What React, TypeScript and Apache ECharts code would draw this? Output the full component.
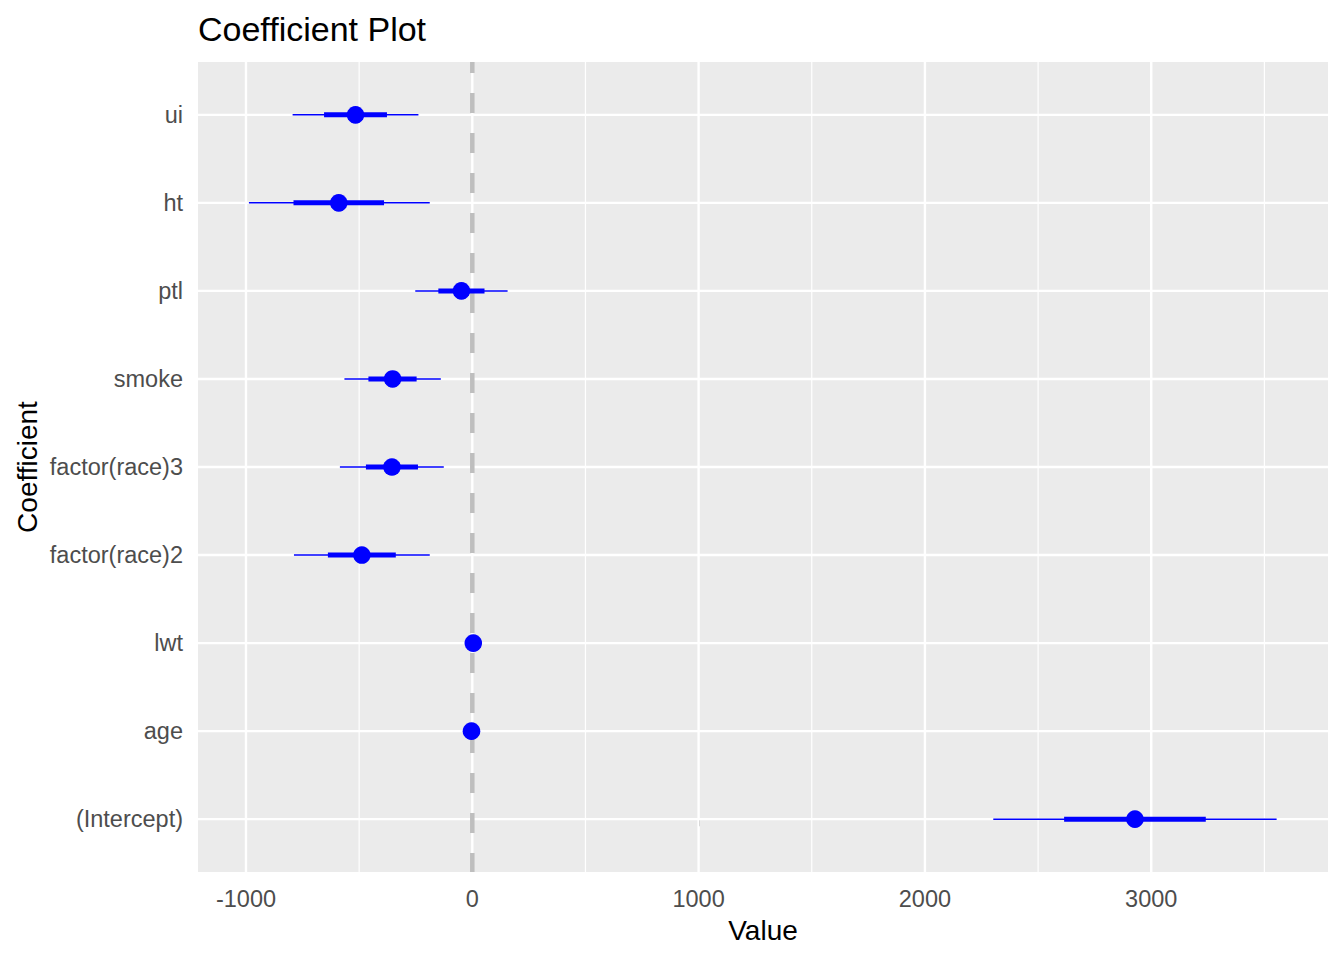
import React, { useEffect, useRef } from "react";
import * as echarts from "echarts";

// Coefficients, bottom to top
const categories = ["(Intercept)", "age", "lwt", "factor(race)2", "factor(race)3", "smoke", "ptl", "ht", "ui"];
const estimate = [2928, -3.6, 4.4, -488, -355, -352, -48, -590, -516];
const innerLow = [2615, -13, 2.6, -638, -470, -459, -150, -790, -655];
const innerHigh = [3241, 6, 6.1, -338, -240, -246, 54, -390, -377];
const outerLow = [2302, -23, 0.9, -788, -585, -565, -252, -987, -794];
const outerHigh = [3554, 16, 7.8, -188, -126, -139, 156, -188, -238];

const xTicks = [-1000, 0, 1000, 2000, 3000];
const xMinor = [-500, 500, 1500, 2500, 3500];
const xMin = -1212;
const xMax = 3781;

const FONT = "'Liberation Sans', Arial, sans-serif";
const BLUE = "#0000FF";

export default function App() {
  const ref = useRef<HTMLDivElement>(null);
  useEffect(() => {
    document.body.style.margin = "0";
    const chart = echarts.init(ref.current!, null, { renderer: "svg" });
    const yIdx = categories.map((_, i) => i);

    const vGrid = (values: number[], width: number, name: string) => ({
      type: "custom",
      name,
      silent: true,
      z: 1,
      clip: false,
      data: values.map((v) => [v]),
      encode: { x: 0 },
      renderItem: (params: any, api: any) => {
        const cs = params.coordSys;
        const x = api.coord([api.value(0), 0])[0];
        return {
          type: "line",
          shape: { x1: x, y1: cs.y, x2: x, y2: cs.y + cs.height },
          style: { stroke: "#FFFFFF", lineWidth: width },
        };
      },
    });

    const option: any = {
      animation: false,
      grid: {
        left: 198,
        right: 16,
        top: 62,
        bottom: 88,
        show: true,
        backgroundColor: "#EBEBEB",
        borderWidth: 0,
        containLabel: false,
      },
      graphic: [
        {
          type: "text",
          left: 198,
          top: 12,
          style: { text: "Coefficient Plot", font: `34px ${FONT}`, fill: "#000000" },
        },
        {
          type: "text",
          x: 763,
          y: 930,
          style: { text: "Value", font: `28px ${FONT}`, fill: "#000000", align: "center", verticalAlign: "middle" },
        },
        {
          type: "text",
          x: 27,
          y: 467,
          rotation: Math.PI / 2,
          style: { text: "Coefficient", font: `28px ${FONT}`, fill: "#000000", align: "center", verticalAlign: "middle" },
        },
      ],
      xAxis: {
        type: "value",
        min: xMin,
        max: xMax,
        axisLine: { show: false },
        splitLine: { show: false },
        axisTick: { show: true, length: 7, lineStyle: { color: "#333333", width: 2 }, customValues: xTicks },
        axisLabel: {
          customValues: xTicks,
          margin: 15,
          color: "#4D4D4D",
          fontSize: 23.5,
          fontFamily: FONT,
          formatter: (v: number) => String(v),
        },
      },
      yAxis: {
        type: "value",
        min: -0.6,
        max: 8.6,
        axisLine: { show: false },
        splitLine: { show: false },
        axisTick: { show: true, length: 7, lineStyle: { color: "#333333", width: 2 }, customValues: yIdx },
        axisLabel: {
          customValues: yIdx,
          margin: 15,
          color: "#4D4D4D",
          fontSize: 23.5,
          fontFamily: FONT,
          formatter: (v: number) => categories[Math.round(v)] ?? "",
        },
      },
      series: [
        vGrid(xMinor, 1.2, "minor"),
        vGrid(xTicks, 2.4, "major"),
        {
          type: "custom",
          name: "hgrid",
          silent: true,
          z: 1,
          clip: false,
          data: yIdx.map((i) => [i]),
          encode: { y: 0 },
          renderItem: (params: any, api: any) => {
            const cs = params.coordSys;
            const y = api.coord([0, api.value(0)])[1];
            return {
              type: "line",
              shape: { x1: cs.x, y1: y, x2: cs.x + cs.width, y2: y },
              style: { stroke: "#FFFFFF", lineWidth: 2.4 },
            };
          },
        },
        {
          type: "custom",
          name: "zero",
          silent: true,
          z: 2,
          clip: false,
          data: [[0]],
          encode: { x: 0 },
          renderItem: (params: any, api: any) => {
            const cs = params.coordSys;
            const x = api.coord([api.value(0), 0])[0];
            return {
              type: "line",
              shape: { x1: x, y1: cs.y, x2: x, y2: cs.y + cs.height },
              style: { stroke: "#BEBEBE", lineWidth: 4.5, lineDash: [20, 20], lineDashOffset: 9 },
            };
          },
        },
        {
          type: "custom",
          name: "coef",
          z: 3,
          clip: false,
          data: yIdx.map((i) => [i, estimate[i], innerLow[i], innerHigh[i], outerLow[i], outerHigh[i]]),
          encode: { y: 0, x: [1, 2, 3, 4, 5] },
          renderItem: (params: any, api: any) => {
            const yi = api.value(0);
            const pE = api.coord([api.value(1), yi]);
            const pIL = api.coord([api.value(2), yi]);
            const pIH = api.coord([api.value(3), yi]);
            const pOL = api.coord([api.value(4), yi]);
            const pOH = api.coord([api.value(5), yi]);
            return {
              type: "group",
              children: [
                {
                  type: "line",
                  shape: { x1: pOL[0], y1: pOL[1], x2: pOH[0], y2: pOH[1] },
                  style: { stroke: BLUE, lineWidth: 1.5 },
                },
                {
                  type: "line",
                  shape: { x1: pIL[0], y1: pIL[1], x2: pIH[0], y2: pIH[1] },
                  style: { stroke: BLUE, lineWidth: 5 },
                },
                {
                  type: "circle",
                  shape: { cx: pE[0], cy: pE[1], r: 8.8 },
                  style: { fill: BLUE },
                },
              ],
            };
          },
        },
      ],
    };
    chart.setOption(option);
    return () => chart.dispose();
  }, []);
  return <div ref={ref} style={{ width: 1344, height: 960 }} />;
}
